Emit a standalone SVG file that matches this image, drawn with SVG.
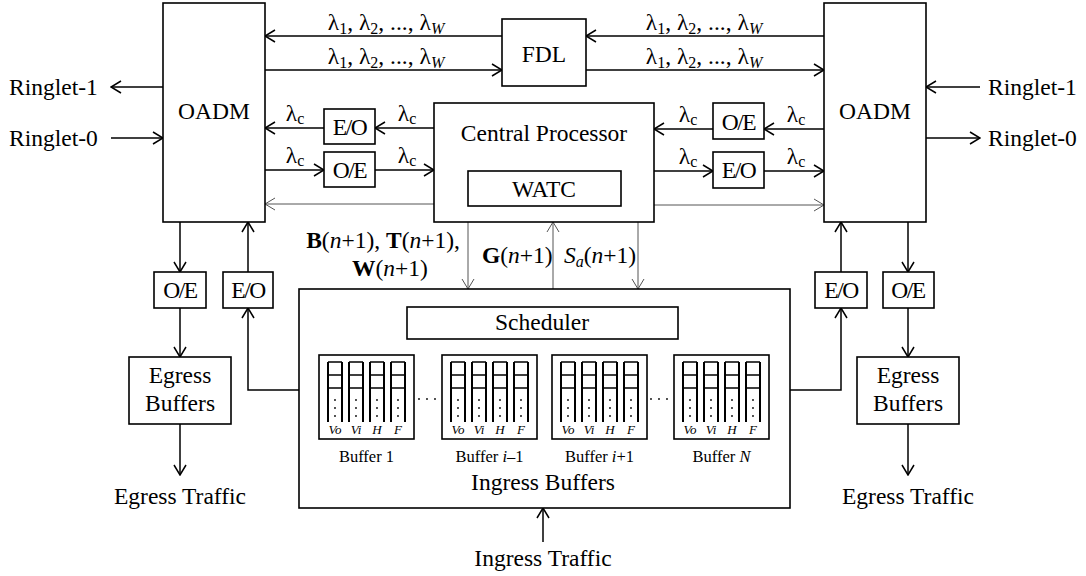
<svg xmlns="http://www.w3.org/2000/svg" width="1086" height="576" viewBox="0 0 1086 576">
<defs>
<style>
text{font-family:"Liberation Serif","Times New Roman",serif;font-size:23.5px;fill:#000}
.c{text-anchor:middle}
.box{fill:#fff;stroke:#000;stroke-width:1.6}
.ln{fill:none;stroke:#000;stroke-width:1.5}
.gl{fill:none;stroke:#555;stroke-width:1}
.thk{fill:none;stroke:#000;stroke-width:2}
.thn{fill:none;stroke:#000;stroke-width:1.4}
.dt{fill:none;stroke:#000;stroke-width:1.8;stroke-linecap:round;stroke-dasharray:0 8}
.sm{font-size:13px;font-style:italic}
.bl{font-size:16.5px}
.it{font-style:italic}
.b{font-weight:bold}
.sub{font-size:16px}
</style>
<marker id="ah" viewBox="-11 -7 12 14" refX="0" refY="0" markerWidth="12" markerHeight="14" markerUnits="userSpaceOnUse" orient="auto"><path d="M-10,-6 L0,0 L-10,6" fill="none" stroke="#000" stroke-width="1.5"/></marker>
<marker id="ahg" viewBox="-11 -7 12 14" refX="0" refY="0" markerWidth="12" markerHeight="14" markerUnits="userSpaceOnUse" orient="auto"><path d="M-10,-6 L0,0 L-10,6" fill="none" stroke="#555" stroke-width="1"/></marker>
</defs>
<rect width="1086" height="576" fill="#fff"/>

<g id="connectors">
<path class="ln" d="M502,36 H265" marker-end="url(#ah)"/>
<path class="ln" d="M265,70 H502" marker-end="url(#ah)"/>
<path class="ln" d="M824,36 H586" marker-end="url(#ah)"/>
<path class="ln" d="M586,70 H824" marker-end="url(#ah)"/>
<path class="ln" d="M163,87 H111" marker-end="url(#ah)"/>
<path class="ln" d="M111,138 H163" marker-end="url(#ah)"/>
<path class="ln" d="M980,87 H926" marker-end="url(#ah)"/>
<path class="ln" d="M926,138 H980" marker-end="url(#ah)"/>
<path class="ln" d="M434,128 H375" marker-end="url(#ah)"/>
<path class="ln" d="M324,128 H265" marker-end="url(#ah)"/>
<path class="ln" d="M265,170 H324" marker-end="url(#ah)"/>
<path class="ln" d="M375,170 H434" marker-end="url(#ah)"/>
<path class="gl" d="M434,204 H265" marker-end="url(#ahg)"/>
<path class="ln" d="M824,129 H764" marker-end="url(#ah)"/>
<path class="ln" d="M713,129 H654" marker-end="url(#ah)"/>
<path class="ln" d="M654,171 H713" marker-end="url(#ah)"/>
<path class="ln" d="M764,171 H824" marker-end="url(#ah)"/>
<path class="gl" d="M654,205 H824" marker-end="url(#ahg)"/>
<path class="gl" d="M468,222 V289" marker-end="url(#ahg)"/>
<path class="gl" d="M553,289 V222" marker-end="url(#ahg)"/>
<path class="gl" d="M638,222 V289" marker-end="url(#ahg)"/>
<path class="ln" d="M180,222 V272" marker-end="url(#ah)"/>
<path class="ln" d="M180,308 V357" marker-end="url(#ah)"/>
<path class="ln" d="M180,424 V475" marker-end="url(#ah)"/>
<path class="ln" d="M248,272 V222" marker-end="url(#ah)"/>
<path class="ln" d="M299,390 H248 V308" marker-end="url(#ah)"/>
<path class="ln" d="M908,222 V272" marker-end="url(#ah)"/>
<path class="ln" d="M908,308 V357" marker-end="url(#ah)"/>
<path class="ln" d="M908,424 V475" marker-end="url(#ah)"/>
<path class="ln" d="M841,272 V222" marker-end="url(#ah)"/>
<path class="ln" d="M790,390 H841 V308" marker-end="url(#ah)"/>
<path class="ln" d="M543,542 V508" marker-end="url(#ah)"/>
</g>

<g id="connector-labels">
<text class="c" x="386" y="30">λ<tspan class="sub" dy="4">1</tspan><tspan dy="-4">, λ</tspan><tspan class="sub" dy="4">2</tspan><tspan dy="-4">, ..., λ</tspan><tspan class="sub it" dy="4">W</tspan></text>
<text class="c" x="386" y="64">λ<tspan class="sub" dy="4">1</tspan><tspan dy="-4">, λ</tspan><tspan class="sub" dy="4">2</tspan><tspan dy="-4">, ..., λ</tspan><tspan class="sub it" dy="4">W</tspan></text>
<text class="c" x="704" y="30">λ<tspan class="sub" dy="4">1</tspan><tspan dy="-4">, λ</tspan><tspan class="sub" dy="4">2</tspan><tspan dy="-4">, ..., λ</tspan><tspan class="sub it" dy="4">W</tspan></text>
<text class="c" x="704" y="64">λ<tspan class="sub" dy="4">1</tspan><tspan dy="-4">, λ</tspan><tspan class="sub" dy="4">2</tspan><tspan dy="-4">, ..., λ</tspan><tspan class="sub it" dy="4">W</tspan></text>
<text x="9" y="95">Ringlet-1</text>
<text x="9" y="146">Ringlet-0</text>
<text x="988" y="95">Ringlet-1</text>
<text x="988" y="146">Ringlet-0</text>
<text class="c" x="295" y="121">λ<tspan class="sub" dy="3">c</tspan></text>
<text class="c" x="407" y="121">λ<tspan class="sub" dy="3">c</tspan></text>
<text class="c" x="295" y="163">λ<tspan class="sub" dy="3">c</tspan></text>
<text class="c" x="407" y="163">λ<tspan class="sub" dy="3">c</tspan></text>
<text class="c" x="688" y="122">λ<tspan class="sub" dy="3">c</tspan></text>
<text class="c" x="796" y="122">λ<tspan class="sub" dy="3">c</tspan></text>
<text class="c" x="688" y="164">λ<tspan class="sub" dy="3">c</tspan></text>
<text class="c" x="796" y="164">λ<tspan class="sub" dy="3">c</tspan></text>
<text x="460" y="248" text-anchor="end"><tspan class="b">B</tspan>(<tspan class="it">n</tspan>+1), <tspan class="b">T</tspan>(<tspan class="it">n</tspan>+1),</text>
<text class="c" x="390" y="276"><tspan class="b">W</tspan>(<tspan class="it">n</tspan>+1)</text>
<text x="482" y="263"><tspan class="b">G</tspan>(<tspan class="it">n</tspan>+1)</text>
<text x="564" y="263"><tspan class="it">S</tspan><tspan class="it sub" dy="4">a</tspan><tspan dy="-4">(</tspan><tspan class="it">n</tspan>+1)</text>
<text class="c" x="180" y="504">Egress Traffic</text>
<text class="c" x="908" y="504">Egress Traffic</text>
<text class="c" x="543" y="566">Ingress Traffic</text>
</g>

<g id="oadm-left"><rect class="box" x="163" y="3" width="102" height="219"/><text class="c" x="214" y="119">OADM</text></g>
<g id="oadm-right"><rect class="box" x="824" y="3" width="102" height="219"/><text class="c" x="875" y="119">OADM</text></g>
<g id="fdl"><rect class="box" x="502" y="19" width="84" height="67"/><text class="c" x="544" y="62">FDL</text></g>
<g id="central-processor"><rect class="box" x="434" y="103" width="220" height="119"/><text class="c" x="544" y="141">Central Processor</text></g>
<g id="watc"><rect class="box" x="468" y="171" width="153" height="35"/><text class="c" x="544" y="197">WATC</text></g>
<g id="eo-left-top"><rect class="box" x="324" y="109" width="51" height="35"/><text class="c" x="349.5" y="135" letter-spacing="-1.5">E/O</text></g>
<g id="oe-left-top"><rect class="box" x="324" y="152" width="51" height="35"/><text class="c" x="349.5" y="178" letter-spacing="-1.5">O/E</text></g>
<g id="oe-right-top"><rect class="box" x="713" y="103" width="51" height="36"/><text class="c" x="738.5" y="130" letter-spacing="-1.5">O/E</text></g>
<g id="eo-right-top"><rect class="box" x="713" y="152" width="51" height="36"/><text class="c" x="738.5" y="178" letter-spacing="-1.5">E/O</text></g>
<g id="oe-left-bottom"><rect class="box" x="154" y="272" width="52" height="36"/><text class="c" x="180" y="298" letter-spacing="-1.5">O/E</text></g>
<g id="eo-left-bottom"><rect class="box" x="223" y="272" width="50" height="36"/><text class="c" x="248" y="298" letter-spacing="-1.5">E/O</text></g>
<g id="eo-right-bottom"><rect class="box" x="815" y="272" width="52" height="36"/><text class="c" x="841" y="298" letter-spacing="-1.5">E/O</text></g>
<g id="oe-right-bottom"><rect class="box" x="883" y="272" width="51" height="36"/><text class="c" x="908" y="298" letter-spacing="-1.5">O/E</text></g>
<g id="egress-left"><rect class="box" x="129" y="357" width="102" height="67"/><text class="c" x="180" y="383">Egress</text><text class="c" x="180" y="411">Buffers</text></g>
<g id="egress-right"><rect class="box" x="857" y="357" width="102" height="67"/><text class="c" x="908" y="383">Egress</text><text class="c" x="908" y="411">Buffers</text></g>

<g id="ingress-buffers">
<rect class="box" x="299" y="289" width="491" height="219"/>
<text class="c" x="543" y="490">Ingress Buffers</text>
</g>
<g id="scheduler"><rect class="box" x="407" y="307" width="271" height="32"/><text class="c" x="542" y="330">Scheduler</text></g>

<g id="buffer-1">
<rect class="box" x="319" y="355" width="95" height="84"/>
<path class="thk" d="M328,362V422M342,362V422M349,362V422M363,362V422M370,362V422M384,362V422M391,362V422M405,362V422"/>
<path class="thn" d="M328,362h14M328,375h14M328,388h14M349,362h14M349,375h14M349,388h14M370,362h14M370,375h14M370,388h14M391,362h14M391,375h14M391,388h14"/>
<path class="dt" d="M335,400V417M356,400V417M377,400V417M398,400V417"/>
<text class="sm c" x="335" y="434">Vo</text><text class="sm c" x="356" y="434">Vi</text><text class="sm c" x="377" y="434">H</text><text class="sm c" x="398" y="434">F</text>
<text class="bl c" x="366.5" y="462">Buffer 1</text>
</g>
<g id="buffer-i-1">
<rect class="box" x="442" y="355" width="95" height="84"/>
<path class="thk" d="M451,362V422M465,362V422M472,362V422M486,362V422M493,362V422M507,362V422M514,362V422M528,362V422"/>
<path class="thn" d="M451,362h14M451,375h14M451,388h14M472,362h14M472,375h14M472,388h14M493,362h14M493,375h14M493,388h14M514,362h14M514,375h14M514,388h14"/>
<path class="dt" d="M458,400V417M479,400V417M500,400V417M521,400V417"/>
<text class="sm c" x="458" y="434">Vo</text><text class="sm c" x="479" y="434">Vi</text><text class="sm c" x="500" y="434">H</text><text class="sm c" x="521" y="434">F</text>
<text class="bl c" x="489.5" y="462">Buffer <tspan class="it">i</tspan>–1</text>
</g>
<g id="buffer-i+1">
<rect class="box" x="552" y="355" width="95" height="84"/>
<path class="thk" d="M561,362V422M575,362V422M582,362V422M596,362V422M603,362V422M617,362V422M624,362V422M638,362V422"/>
<path class="thn" d="M561,362h14M561,375h14M561,388h14M582,362h14M582,375h14M582,388h14M603,362h14M603,375h14M603,388h14M624,362h14M624,375h14M624,388h14"/>
<path class="dt" d="M568,400V417M589,400V417M610,400V417M631,400V417"/>
<text class="sm c" x="568" y="434">Vo</text><text class="sm c" x="589" y="434">Vi</text><text class="sm c" x="610" y="434">H</text><text class="sm c" x="631" y="434">F</text>
<text class="bl c" x="599.5" y="462">Buffer <tspan class="it">i</tspan>+1</text>
</g>
<g id="buffer-n">
<rect class="box" x="674" y="355" width="95" height="84"/>
<path class="thk" d="M683,362V422M697,362V422M704,362V422M718,362V422M725,362V422M739,362V422M746,362V422M760,362V422"/>
<path class="thn" d="M683,362h14M683,375h14M683,388h14M704,362h14M704,375h14M704,388h14M725,362h14M725,375h14M725,388h14M746,362h14M746,375h14M746,388h14"/>
<path class="dt" d="M690,400V417M711,400V417M732,400V417M753,400V417"/>
<text class="sm c" x="690" y="434">Vo</text><text class="sm c" x="711" y="434">Vi</text><text class="sm c" x="732" y="434">H</text><text class="sm c" x="753" y="434">F</text>
<text class="bl c" x="721.5" y="462">Buffer <tspan class="it">N</tspan></text>
</g>
<g id="ellipsis">
<path class="dt" d="M419,399H440M651,399H672" stroke-width="1.4" stroke-dasharray="0 6.5"/>
</g>
</svg>
